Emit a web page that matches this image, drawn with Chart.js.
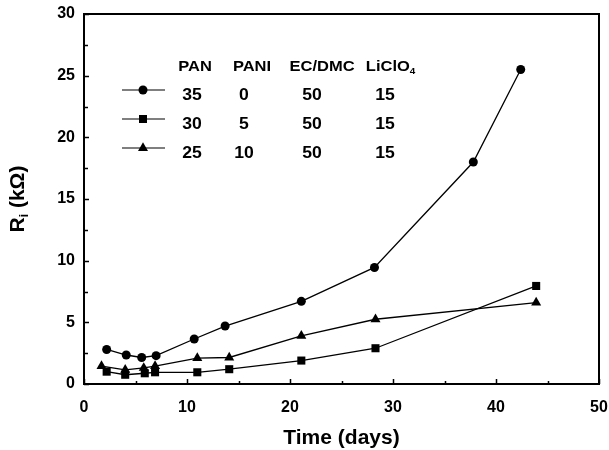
<!DOCTYPE html>
<html>
<head>
<meta charset="utf-8">
<script src="https://cdn.jsdelivr.net/npm/chart.js@4.4.1/dist/chart.umd.min.js"></script>
<style>
  html, body { margin: 0; padding: 0; background: #fff; }
  #wrap { width: 609px; height: 450px; }
</style>
</head>
<body>
<div id="wrap"><canvas id="chart1" width="609" height="450"></canvas></div>
<script>
// values (time in days, Ri in kOhm)
var circleDays = [2.2, 4.1, 5.6, 7.0, 10.7, 13.7, 21.1, 28.2, 37.8, 42.4];
var circleR = [2.8, 2.35, 2.15, 2.3, 3.65, 4.7, 6.7, 9.45, 18.0, 25.5];
var squareDays = [2.2, 4.0, 5.9, 6.9, 11.0, 14.1, 21.1, 28.3, 43.9];
var squareR = [1.0, 0.75, 0.87, 0.95, 0.95, 1.2, 1.9, 2.9, 7.95];
var triDays = [1.7, 4.0, 5.8, 6.9, 11.0, 14.1, 21.1, 28.3, 43.9];
var triR = [1.45, 1.15, 1.3, 1.45, 2.1, 2.15, 3.9, 5.25, 6.6];

// composition table shown as legend
var legendHeaders = ["PAN", "PANI", "EC/DMC", "LiClO4"];
var panWt = [35, 30, 25];
var paniWt = [0, 5, 10];
var ecdmcWt = [50, 50, 50];
var licloWt = [15, 15, 15];
var markerStyles = ["circle", "rect", "triangle"];

var xTitle = "Time (days)";
var yTitle = ["R", "i", " (kΩ)"];

function toPoints(xs, ys) {
    var pts = new Array();
    for (var i = 0; i < xs.length; i++) {
        pts.push({x: xs[i], y: ys[i]});
    }
    return pts;
}

var FONT = "'Liberation Sans', Arial, sans-serif";

function drawMarker(ctx, style, x, y) {
    ctx.beginPath();
    if (style == "circle") {
        ctx.arc(x, y, 4.5, 0, Math.PI * 2);
    } else if (style == "rect") {
        ctx.rect(x - 4, y - 4, 8, 8);
    } else {
        ctx.moveTo(x, y - 5.8);
        ctx.lineTo(x + 5.0, y + 2.9);
        ctx.lineTo(x - 5.0, y + 2.9);
        ctx.closePath();
    }
    ctx.fill();
}

var framePlugin = {
    id: "frame",
    afterDraw: function (chart) {
        var ctx = chart.ctx;
        var a = chart.chartArea;
        var xs = chart.scales.x;
        var ys = chart.scales.y;
        ctx.save();
        ctx.strokeStyle = "#000";
        ctx.fillStyle = "#000";

        // box
        ctx.lineWidth = 2;
        ctx.strokeRect(a.left, a.top, a.right - a.left, a.bottom - a.top);

        // inward ticks
        ctx.lineWidth = 1.5;
        ctx.beginPath();
        for (var v = 0; v <= 30; v += 2.5) {
            var py = Math.round(ys.getPixelForValue(v)) + 0.5;
            var len = (v % 5 == 0) ? 5 : 4;
            ctx.moveTo(a.left, py);
            ctx.lineTo(a.left + len, py);
        }
        for (var d = 0; d <= 50; d += 5) {
            var px = Math.round(xs.getPixelForValue(d)) + 0.5;
            var l2 = (d % 10 == 0) ? 5 : 3;
            ctx.moveTo(px, a.bottom);
            ctx.lineTo(px, a.bottom - l2);
        }
        ctx.stroke();

        // axis titles
        ctx.font = "bold 21px " + FONT;
        ctx.textAlign = "center";
        ctx.textBaseline = "middle";
        ctx.fillText(xTitle, (a.left + a.right) / 2, 438);

        ctx.save();
        ctx.translate(18, (a.top + a.bottom) / 2);
        ctx.rotate(-Math.PI / 2);
        ctx.font = "bold 21px " + FONT;
        var wR = ctx.measureText(yTitle[0]).width;
        ctx.font = "bold 12px " + FONT;
        var wi = ctx.measureText(yTitle[1]).width;
        ctx.font = "bold 21px " + FONT;
        var wRest = ctx.measureText(yTitle[2]).width;
        var x0 = -(wR + wi + wRest) / 2;
        ctx.textAlign = "left";
        ctx.fillText(yTitle[0], x0, 0);
        ctx.font = "bold 12px " + FONT;
        ctx.fillText(yTitle[1], x0 + wR, 7);
        ctx.font = "bold 21px " + FONT;
        ctx.fillText(yTitle[2], x0 + wR + wi, 0);
        ctx.restore();

        // legend table
        var colX = [195, 252, 322, 390];
        var rowY = [96, 125, 154];
        ctx.textAlign = "center";
        ctx.textBaseline = "middle";
        for (var c = 0; c < legendHeaders.length; c++) {
            var txt = legendHeaders[c];
            ctx.save();
            ctx.translate(colX[c], 67);
            ctx.scale(1.1, 1);
            ctx.font = "bold 15px " + FONT;
            if (c == 3) {
                var main = txt.slice(0, -1);
                var w = ctx.measureText(main).width;
                ctx.textAlign = "left";
                ctx.fillText(main, -w / 2 - 2, 0);
                ctx.font = "bold 9px " + FONT;
                ctx.fillText(txt.slice(-1), w / 2 - 2, 5);
            } else {
                ctx.fillText(txt, 0, 0);
            }
            ctx.restore();
        }
        var cols = [panWt, paniWt, ecdmcWt, licloWt];
        var valX = [192, 244, 312, 385];
        for (var r = 0; r < 3; r++) {
            for (var k = 0; k < cols.length; k++) {
                ctx.save();
                ctx.translate(valX[k], rowY[r]);
                ctx.scale(1.1, 1);
                ctx.font = "bold 16px " + FONT;
                ctx.fillText(String(cols[k][r]), 0, 0);
                ctx.restore();
            }
            var my = rowY[r] - 6;
            ctx.lineWidth = 1.2;
            ctx.beginPath();
            ctx.moveTo(122, my);
            ctx.lineTo(165, my);
            ctx.stroke();
            drawMarker(ctx, markerStyles[r], 143, my);
        }
        ctx.restore();
    }
};

new Chart(document.getElementById("chart1"), {
    type: "scatter",
    data: {
        datasets: [
            {label: "35/0/50/15", data: toPoints(circleDays, circleR), pointStyle: "circle", pointRadius: 4.5},
            {label: "30/5/50/15", data: toPoints(squareDays, squareR), pointStyle: "rect", pointRadius: 5.7},
            {label: "25/10/50/15", data: toPoints(triDays, triR), pointStyle: "triangle", pointRadius: 5.8}
        ]
    },
    options: {
        responsive: false,
        animation: false,
        showLine: true,
        elements: {
            line: {borderColor: "#000", borderWidth: 1.3, tension: 0},
            point: {backgroundColor: "#000", borderColor: "#000", borderWidth: 0, hoverRadius: 5}
        },
        layout: {padding: {left: 0, right: 10, top: 14, bottom: 0}},
        plugins: {legend: {display: false}, tooltip: {enabled: false}},
        scales: {
            x: {
                type: "linear", min: 0, max: 50,
                grid: {display: false, drawTicks: false},
                border: {display: false},
                ticks: {stepSize: 10, padding: 14, color: "#000", font: {size: 16, weight: "bold", family: FONT}},
                afterFit: function (s) { s.height = 66; s.paddingLeft = 0; s.paddingRight = 0; }
            },
            y: {
                min: 0, max: 30,
                grid: {display: false, drawTicks: false},
                border: {display: false},
                ticks: {stepSize: 5, padding: 9, color: "#000", font: {size: 16, weight: "bold", family: FONT}},
                afterFit: function (s) { s.width = 84; s.paddingTop = 0; s.paddingBottom = 0; }
            }
        }
    },
    plugins: [framePlugin]
});
</script>
</body>
</html>
